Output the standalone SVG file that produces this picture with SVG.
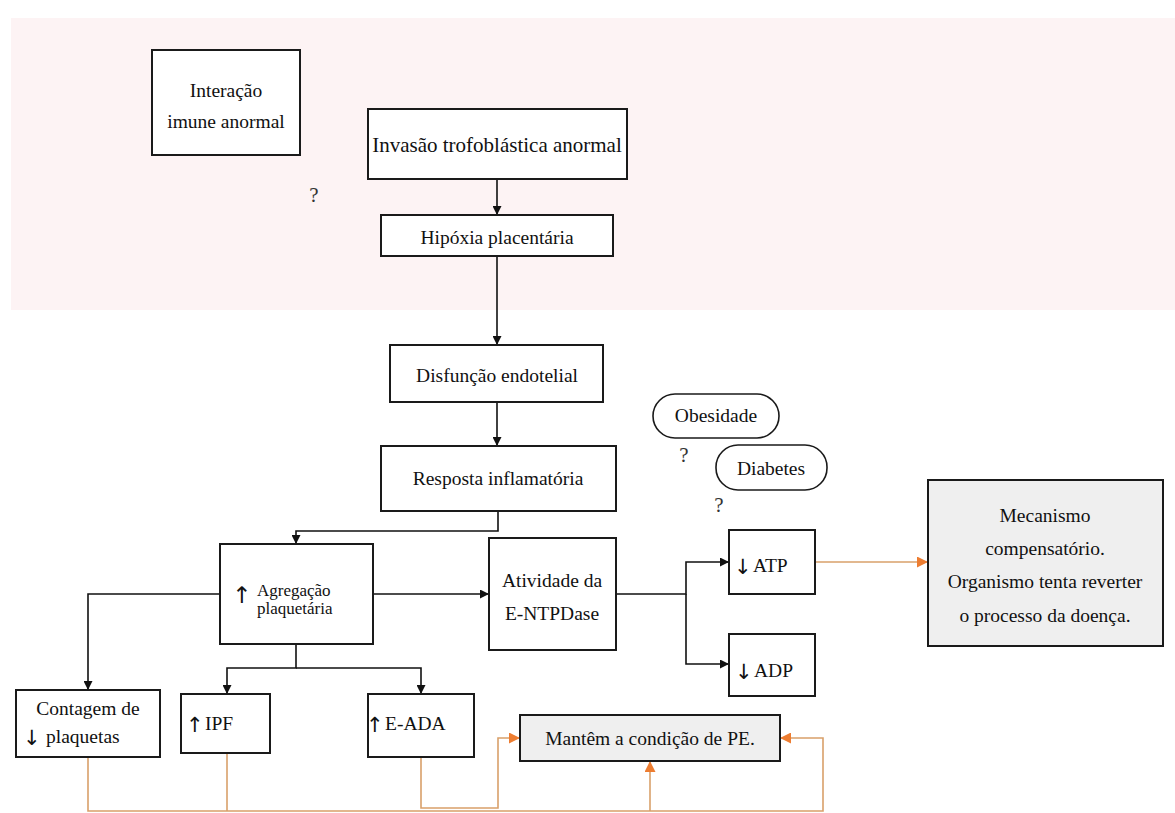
<svg xmlns="http://www.w3.org/2000/svg" width="1175" height="813" viewBox="0 0 1175 813">
  <style>
    .box { fill: #ffffff; stroke: #1a1a1a; stroke-width: 2; }
    .grey { fill: #efefef; stroke: #1a1a1a; stroke-width: 2; }
    .pill { fill: #ffffff; stroke: #1a1a1a; stroke-width: 1.6; }
    .t { font-family: "Liberation Serif", "Times New Roman", serif; font-size: 19.5px; fill: #111; text-anchor: middle; }
    .tl { font-family: "Liberation Serif", "Times New Roman", serif; font-size: 19.5px; fill: #111; }
    .ts { font-family: "Liberation Serif", "Times New Roman", serif; font-size: 17px; fill: #111; }
    .ar { font-family: "DejaVu Sans", sans-serif; font-size: 21px; fill: #111; }
    .q { font-family: "Liberation Serif", "Times New Roman", serif; font-size: 21px; fill: #333; text-anchor: middle; }
    .blk { fill: none; stroke: #111; stroke-width: 1.6; }
    .org { fill: none; stroke: #d9a06a; stroke-width: 1.6; }
  </style>
  <defs>
    <marker id="ah" viewBox="0 0 10 10" refX="10" refY="5" markerWidth="9" markerHeight="9" markerUnits="userSpaceOnUse" orient="auto">
      <path d="M0,0 L10,5 L0,10 z" fill="#111"/>
    </marker>
    <marker id="ao" viewBox="0 0 10 10" refX="10" refY="5" markerWidth="11" markerHeight="11" markerUnits="userSpaceOnUse" orient="auto">
      <path d="M0,0 L10,5 L0,10 z" fill="#ed7d31"/>
    </marker>
  </defs>

  <!-- background -->
  <rect x="0" y="0" width="1175" height="813" fill="#ffffff"/>
  <rect id="placental-zone" x="11" y="18" width="1164" height="292" fill="#fdf3f4"/>

  <!-- connectors -->
  <g id="connectors">
    <path class="blk" d="M497,179 V215" marker-end="url(#ah)"/>
    <path class="blk" d="M497,256 V345" marker-end="url(#ah)"/>
    <path class="blk" d="M497,402 V446" marker-end="url(#ah)"/>
    <path class="blk" d="M498,511 V531 H296 V544" marker-end="url(#ah)"/>
    <path class="blk" d="M373,594 H489" marker-end="url(#ah)"/>
    <path class="blk" d="M220,594 H88 V690" marker-end="url(#ah)"/>
    <path class="blk" d="M296,644 V668 H227 V694" marker-end="url(#ah)"/>
    <path class="blk" d="M296,668 H421 V694" marker-end="url(#ah)"/>
    <path class="blk" d="M616,594 H686 V562 H729" marker-end="url(#ah)"/>
    <path class="blk" d="M686,594 V664 H729" marker-end="url(#ah)"/>

    <path class="org" d="M815,562 H928" marker-end="url(#ao)"/>
    <path class="org" d="M88,757 V811 H823 V738 H780" marker-end="url(#ao)"/>
    <path class="org" d="M227,753 V811"/>
    <path class="org" d="M650,811 V761" marker-end="url(#ao)"/>
    <path class="org" d="M421,757 V808 H498 V738 H520" marker-end="url(#ao)"/>
  </g>

  <!-- nodes -->
  <g id="interacao">
    <rect class="box" x="152" y="50" width="148" height="105"/>
    <text class="t" x="226" y="97">Interação</text>
    <text class="t" x="226" y="128">imune anormal</text>
  </g>
  <text class="q" x="314" y="202">?</text>

  <g id="invasao">
    <rect class="box" x="368" y="109" width="259" height="70"/>
    <text class="t" x="497" y="152" style="font-size:21px">Invasão trofoblástica anormal</text>
  </g>

  <g id="hipoxia">
    <rect class="box" x="381" y="215" width="232" height="41"/>
    <text class="t" x="497" y="244">Hipóxia placentária</text>
  </g>

  <g id="disfuncao">
    <rect class="box" x="390" y="345" width="213" height="57"/>
    <text class="t" x="497" y="382">Disfunção endotelial</text>
  </g>

  <g id="resposta">
    <rect class="box" x="381" y="446" width="235" height="65"/>
    <text class="t" x="498" y="485">Resposta inflamatória</text>
  </g>

  <g id="obesidade">
    <rect class="pill" x="653" y="394" width="126" height="44" rx="22"/>
    <text class="t" x="716" y="422">Obesidade</text>
  </g>
  <text class="q" x="684" y="462">?</text>

  <g id="diabetes">
    <rect class="pill" x="716" y="445" width="111" height="45" rx="22"/>
    <text class="t" x="771" y="475">Diabetes</text>
  </g>
  <text class="q" x="719" y="512">?</text>

  <g id="agregacao">
    <rect class="box" x="220" y="544" width="153" height="100"/>
    <text class="ar" x="232" y="603" style="font-size:23px">↑</text>
    <text class="ts" x="257" y="596">Agregação</text>
    <text class="ts" x="257" y="614">plaquetária</text>
  </g>

  <g id="atividade">
    <rect class="box" x="489" y="538" width="127" height="112"/>
    <text class="t" x="552" y="587">Atividade da</text>
    <text class="t" x="552" y="620">E-NTPDase</text>
  </g>

  <g id="atp">
    <rect class="box" x="729" y="530" width="86" height="64"/>
    <text class="ar" x="734" y="574">↓</text>
    <text class="tl" x="753" y="572">ATP</text>
  </g>

  <g id="adp">
    <rect class="box" x="729" y="634" width="86" height="62"/>
    <text class="ar" x="735" y="679">↓</text>
    <text class="tl" x="754" y="677">ADP</text>
  </g>

  <g id="mecanismo">
    <rect class="grey" x="928" y="480" width="235" height="166"/>
    <text class="t" x="1045" y="522">Mecanismo</text>
    <text class="t" x="1045" y="555">compensatório.</text>
    <text class="t" x="1045" y="588">Organismo tenta reverter</text>
    <text class="t" x="1045" y="622">o processo da doença.</text>
  </g>

  <g id="contagem">
    <rect class="box" x="16" y="690" width="144" height="67"/>
    <text class="t" x="88" y="715">Contagem de</text>
    <text class="ar" x="23" y="745">↓</text>
    <text class="tl" x="46" y="743">plaquetas</text>
  </g>

  <g id="ipf">
    <rect class="box" x="181" y="694" width="89" height="59"/>
    <text class="ar" x="186" y="732">↑</text>
    <text class="tl" x="205" y="730">IPF</text>
  </g>

  <g id="eada">
    <rect class="box" x="368" y="694" width="106" height="63"/>
    <text class="ar" x="366" y="732">↑</text>
    <text class="tl" x="385" y="730">E-ADA</text>
  </g>

  <g id="mantem">
    <rect class="grey" x="520" y="715" width="260" height="46"/>
    <text class="t" x="650" y="745">Mantêm a condição de PE.</text>
  </g>
</svg>
